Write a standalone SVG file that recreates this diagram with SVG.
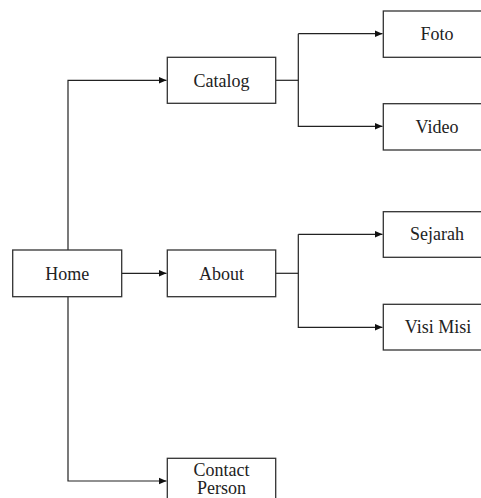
<svg xmlns="http://www.w3.org/2000/svg" width="481" height="498" viewBox="0 0 481 498">
<style>
.box{fill:#fff;stroke:#333;stroke-width:1.3}
.t{font-family:"Liberation Serif","Times New Roman",serif;font-size:18px;fill:#222;text-anchor:middle}
.c{fill:none;stroke:#222;stroke-width:1.2}
</style>
<defs>
<marker id="ah" markerWidth="9" markerHeight="9" refX="8" refY="4.5" orient="auto" markerUnits="userSpaceOnUse">
<path d="M0,1 L8,4.5 L0,8 Z" fill="#111"/>
</marker>
</defs>
<rect width="481" height="498" fill="#fff"/>
<g id="connectors">
<path class="c" d="M68,250 V80.3 H166.5" marker-end="url(#ah)"/>
<path class="c" d="M121.7,273.3 H166.5" marker-end="url(#ah)"/>
<path class="c" d="M68,296.7 V481 H166.5" marker-end="url(#ah)"/>
<path class="c" d="M275.7,80.3 H298.3"/>
<path class="c" d="M298.3,33.7 V126.3 H382.5" marker-end="url(#ah)"/>
<path class="c" d="M298.3,33.7 H382.5" marker-end="url(#ah)"/>
<path class="c" d="M275.7,273.3 H298.3"/>
<path class="c" d="M298.3,234.3 V327.3 H382.5" marker-end="url(#ah)"/>
<path class="c" d="M298.3,234.3 H382.5" marker-end="url(#ah)"/>
</g>
<g id="home"><rect class="box" x="12.7" y="250" width="109" height="46.7"/><text class="t" x="67.2" y="279.5">Home</text></g>
<g id="catalog"><rect class="box" x="167.3" y="57.3" width="108.4" height="46"/><text class="t" x="221.5" y="86.5">Catalog</text></g>
<g id="about"><rect class="box" x="167.3" y="250" width="108.4" height="46.7"/><text class="t" x="221.5" y="279.5">About</text></g>
<g id="contact"><rect class="box" x="167.3" y="458.3" width="108.4" height="46"/><text class="t" x="221.5" y="475.5">Contact</text><text class="t" x="221.5" y="494">Person</text></g>
<g id="foto"><rect class="box" x="383.3" y="11" width="108" height="46.3"/><text class="t" x="437" y="40">Foto</text></g>
<g id="video"><rect class="box" x="383.3" y="103.7" width="108" height="46.3"/><text class="t" x="437" y="132.5">Video</text></g>
<g id="sejarah"><rect class="box" x="383.3" y="211.7" width="108" height="45.6"/><text class="t" x="437" y="240">Sejarah</text></g>
<g id="visimisi"><rect class="box" x="383.3" y="304.3" width="108" height="45.7"/><text class="t" x="438" y="333">Visi Misi</text></g>
</svg>
